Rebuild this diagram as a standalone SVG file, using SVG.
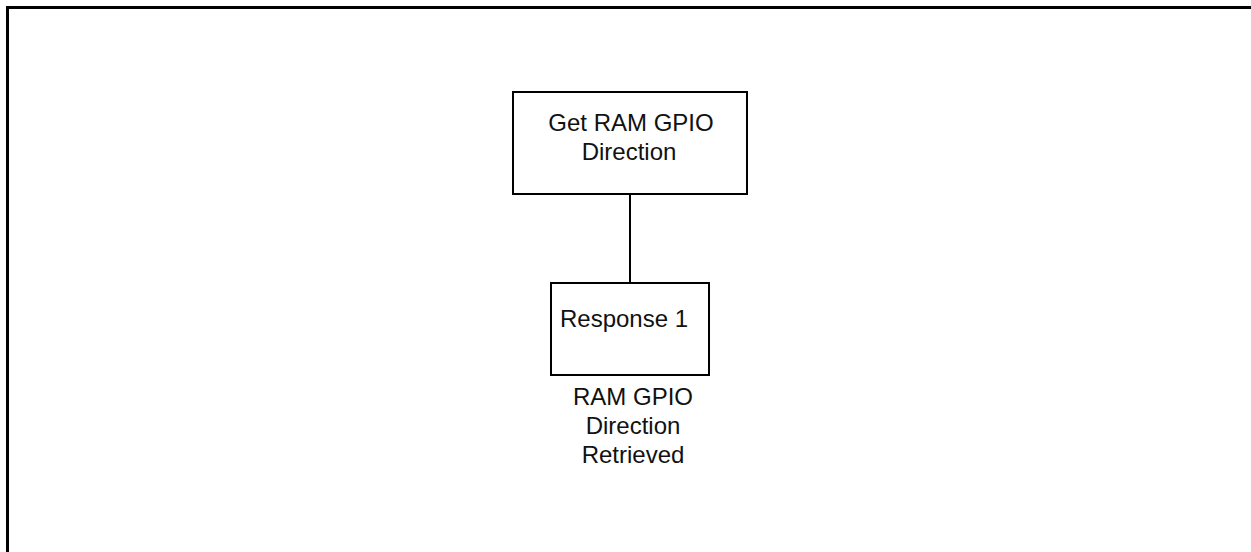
<svg xmlns="http://www.w3.org/2000/svg" width="1251" height="552" viewBox="0 0 1251 552">
<style>
.box{fill:#fff;stroke:#000;stroke-width:2}
.frame{fill:none;stroke:#000;stroke-width:3}
.t{font-family:"Liberation Sans",Arial,sans-serif;font-size:24px;fill:#111;text-anchor:middle}
.c{stroke:#000;stroke-width:2;fill:none}
</style>
<rect width="1251" height="552" fill="#fff"/>
<path class="frame" d="M7.5,600 V7.5 H1260"/>
<g id="connectors">
<line class="c" x1="630" y1="194" x2="630" y2="283"/>
</g>
<g id="node-get">
<rect class="box" x="513" y="92" width="234" height="102"/>
<text class="t" x="631" y="131">Get RAM GPIO</text>
<text class="t" x="629" y="160">Direction</text>
</g>
<g id="node-response">
<rect class="box" x="551" y="283" width="158" height="92"/>
<text class="t" x="624" y="327">Response 1</text>
</g>
<g id="label-retrieved">
<text class="t" x="633" y="405">RAM GPIO</text>
<text class="t" x="633" y="434">Direction</text>
<text class="t" x="633" y="463">Retrieved</text>
</g>
</svg>
